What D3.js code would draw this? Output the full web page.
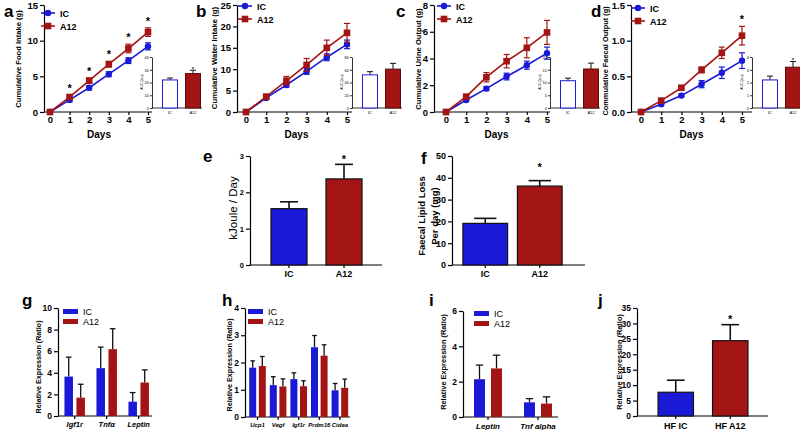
<!DOCTYPE html>
<html>
<head>
<meta charset="utf-8">
<script src="https://cdn.jsdelivr.net/npm/d3@7"></script>
<style>
  body { margin: 0; background: #fff; }
  svg { display: block; font-family: "Liberation Sans", Arial, sans-serif; }
</style>
</head>
<body>
<svg id="fig" width="800" height="430"></svg>
<script>
// ---- data ----
const days = [0, 1, 2, 3, 4, 5]
const groups = ["IC", "A12"]

const foodIC = [0, 1.7, 3.4, 5.3, 7.2, 9.2]
const foodICErr = [0, 0.3, 0.3, 0.35, 0.4, 0.5]
const foodA12 = [0, 2.1, 4.4, 6.7, 8.9, 11.2]
const foodA12Err = [0, 0.3, 0.35, 0.4, 0.6, 0.6]
const foodSig = [1, 2, 3, 4, 5]

const waterIC = [0, 3.3, 6.3, 9.5, 12.8, 15.8]
const waterICErr = [0, 0.3, 0.5, 0.7, 0.8, 1.0]
const waterA12 = [0, 3.6, 7.3, 11.0, 15.0, 18.5]
const waterA12Err = [0, 0.4, 1.0, 1.5, 1.8, 2.2]

const urineIC = [0, 0.9, 1.75, 2.65, 3.5, 4.4]
const urineICErr = [0, 0.1, 0.15, 0.25, 0.3, 0.45]
const urineA12 = [0, 1.15, 2.6, 3.8, 4.8, 5.95]
const urineA12Err = [0, 0.15, 0.35, 0.5, 0.75, 0.9]

const faecalIC = [0, 0.11, 0.23, 0.39, 0.55, 0.72]
const faecalICErr = [0, 0.02, 0.02, 0.05, 0.08, 0.11]
const faecalA12 = [0, 0.16, 0.34, 0.59, 0.83, 1.07]
const faecalA12Err = [0, 0.02, 0.02, 0.04, 0.08, 0.13]
const faecalSig = [5]

// inset AUC bars (IC, A12)
const aucFood = [22, 27], aucFoodErr = [1.5, 2.6]
const aucWater = [52, 61], aucWaterErr = [5, 9]
const aucUrine = [10.7, 15.3], aucUrineErr = [1, 2.3]
const aucFaecal = [2.2, 3.2], aucFaecalErr = [0.3, 0.45]

const energy = [1.55, 2.37], energyErr = [0.19, 0.4]
const lipid = [19.1, 36.2], lipidErr = [2.3, 2.5]

const gGenes = ["Igf1r", "Tnfα", "Leptin"]
const gIC = [3.65, 4.43, 1.33], gICErr = [1.8, 1.95, 0.84]
const gA12 = [1.7, 6.19, 3.1], gA12Err = [1.24, 1.89, 1.17]

const hGenes = ["Ucp1", "Vegf", "Igf1r", "Prdm16", "Cidea"]
const hIC = [1.81, 1.17, 1.39, 2.56, 0.98], hICErr = [0.25, 0.31, 0.23, 0.43, 0.25]
const hA12 = [1.87, 1.12, 1.13, 2.25, 1.07], hA12Err = [0.35, 0.28, 0.2, 0.4, 0.32]

const iGenes = ["Leptin", "Tnf alpha"]
const iIC = [2.14, 0.83], iICErr = [0.8, 0.21]
const iA12 = [2.75, 0.76], iA12Err = [0.75, 0.38]

const jGroups = ["HF IC", "HF A12"]
const jVals = [7.7, 24.4], jErr = [3.9, 5.2]

// ---- drawing ----
const BLUE = "#1a1ad6"
const RED = "#a31414"
const svg = d3.select("#fig")
const intFmt = d3.format("d")

function styleAxis(sel, size, weight) {
  sel.attr("font-size", size).attr("font-family", null).attr("font-weight", weight)
  sel.selectAll(".domain, .tick line").attr("stroke", "#000").attr("stroke-width", 1.2)
  sel.selectAll("text").attr("fill", "#000")
}

function yLabel(x, y, text, size, weight) {
  svg.append("text")
    .attr("transform", `translate(${x},${y}) rotate(-90)`)
    .attr("text-anchor", "middle")
    .attr("dominant-baseline", "central")
    .attr("font-size", size)
    .attr("font-weight", weight)
    .text(text)
}

function letter(x, y, t) {
  svg.append("text").attr("x", x).attr("y", y)
    .attr("font-size", 17).attr("font-weight", "bold").text(t)
}

function star(x, y, size) {
  svg.append("text").attr("x", x).attr("y", y)
    .attr("text-anchor", "middle").attr("font-size", size).attr("font-weight", "bold")
    .text("*")
}

// cumulative line panels with AUC inset
function linePanel(p) {
  const x = d3.scaleLinear().domain([0, 5]).range([p.x0, p.x1])
  const y = d3.scaleLinear().domain([0, p.yMax]).range([112, 5])
  const g = svg.append("g")

  const ya = g.append("g").attr("transform", `translate(${p.ax},0)`)
    .call(d3.axisLeft(y).tickValues(p.yTicks).tickFormat(p.fmt).tickSize(4).tickSizeOuter(0).tickPadding(2))
  styleAxis(ya, 9.5, "bold")
  const xa = g.append("g").attr("transform", "translate(0,112)")
    .call(d3.axisBottom(x).tickValues(days).tickFormat(intFmt).tickSize(3).tickSizeOuter(0).tickPadding(1))
  xa.select(".domain").attr("d", `M${p.ax},0H${p.ix}`)
  styleAxis(xa, 9.5, "bold")

  g.append("text").attr("x", (p.x0 + p.x1) / 2).attr("y", 138)
    .attr("text-anchor", "middle").attr("font-size", 10).attr("font-weight", "bold").text("Days")

  const series = [
    { v: p.ic, e: p.icErr, c: BLUE, m: "circle", name: "IC" },
    { v: p.a12, e: p.a12Err, c: RED, m: "square", name: "A12" }
  ]
  const line = d3.line().x((d, i) => x(days[i])).y(d => y(d))

  series.forEach((s, k) => {
    const pts = s.v.map((d, i) => ({ d, e: s.e[i], day: days[i] }))
    g.append("path").attr("d", line(s.v))
      .attr("fill", "none").attr("stroke", s.c).attr("stroke-width", 1.6)
    const eb = g.append("g").attr("stroke", s.c).attr("stroke-width", 1.2)
    const withErr = pts.filter(d => d.e > 0)
    eb.selectAll(null).data(withErr).enter().append("line")
      .attr("x1", d => x(d.day)).attr("x2", d => x(d.day))
      .attr("y1", d => y(d.d - d.e)).attr("y2", d => y(d.d + d.e))
    eb.selectAll(null).data(withErr).enter().append("line")
      .attr("x1", d => x(d.day) - 3).attr("x2", d => x(d.day) + 3)
      .attr("y1", d => y(d.d + d.e)).attr("y2", d => y(d.d + d.e))
    eb.selectAll(null).data(withErr).enter().append("line")
      .attr("x1", d => x(d.day) - 3).attr("x2", d => x(d.day) + 3)
      .attr("y1", d => y(d.d - d.e)).attr("y2", d => y(d.d - d.e))
    if (s.m === "circle") {
      g.selectAll(null).data(pts).enter().append("circle")
        .attr("cx", d => x(d.day)).attr("cy", d => y(d.d)).attr("r", 3.2).attr("fill", s.c)
    } else {
      g.selectAll(null).data(pts).enter().append("rect")
        .attr("x", d => x(d.day) - 3.3).attr("y", d => y(d.d) - 3.3)
        .attr("width", 6.6).attr("height", 6.6).attr("fill", s.c)
    }
    // legend
    const ly = p.ly + k * 13
    g.append("line").attr("x1", p.lx).attr("x2", p.lx + 14).attr("y1", ly).attr("y2", ly)
      .attr("stroke", s.c).attr("stroke-width", 1.6)
    if (s.m === "circle") {
      g.append("circle").attr("cx", p.lx + 7).attr("cy", ly).attr("r", 3.2).attr("fill", s.c)
    } else {
      g.append("rect").attr("x", p.lx + 3.7).attr("y", ly - 3.3).attr("width", 6.6).attr("height", 6.6).attr("fill", s.c)
    }
    g.append("text").attr("x", p.lx + 19).attr("y", ly + 3.5)
      .attr("font-size", 9).attr("font-weight", "bold").text(s.name)
  })

  ;(p.sig || []).forEach(i => star(x(days[i]), y(p.a12[i] + p.a12Err[i]) - 3, 11))

  // inset AUC
  const iy = d3.scaleLinear().domain([0, p.aucMax]).range([108, 57])
  const ix = d3.scaleBand().domain(groups).range([p.ix + 6.5, p.ix + 52.5]).paddingInner(0.35).paddingOuter(0.175)
  const ia = g.append("g").attr("transform", `translate(${p.ix},0)`)
    .call(d3.axisLeft(iy).tickValues(p.aucTicks).tickFormat(intFmt).tickSize(2).tickSizeOuter(0).tickPadding(1))
  styleAxis(ia, 4, "normal")
  ia.selectAll(".domain, .tick line").attr("stroke-width", 0.8)
  const ib = g.append("g").attr("transform", "translate(0,108)")
    .call(d3.axisBottom(ix).tickSize(0).tickPadding(3))
  ib.select(".domain").attr("d", `M${p.ix},0H${p.ix + 50}`)
  styleAxis(ib, 4, "normal")
  ib.selectAll(".domain").attr("stroke-width", 0.8)
  g.append("text")
    .attr("transform", `translate(${p.ix - 9},82) rotate(-90)`)
    .attr("text-anchor", "middle").attr("font-size", 3.5).text("AUC (a.u)")

  const auc = groups.map((k, i) => ({ k, v: p.auc[i], e: p.aucErr[i] }))
  const icx = d => ix(d.k) + ix.bandwidth() / 2
  g.selectAll(null).data(auc).enter().append("line")
    .attr("x1", icx).attr("x2", icx)
    .attr("y1", d => iy(d.v)).attr("y2", d => iy(d.v + d.e))
    .attr("stroke", "#111").attr("stroke-width", 1)
  g.selectAll(null).data(auc).enter().append("line")
    .attr("x1", d => icx(d) - 3).attr("x2", d => icx(d) + 3)
    .attr("y1", d => iy(d.v + d.e)).attr("y2", d => iy(d.v + d.e))
    .attr("stroke", "#111").attr("stroke-width", 1)
  g.selectAll(null).data(auc).enter().append("rect")
    .attr("x", d => ix(d.k)).attr("width", ix.bandwidth())
    .attr("y", d => iy(d.v)).attr("height", d => 108 - iy(d.v))
    .attr("fill", (d, i) => i === 0 ? "#fff" : RED)
    .attr("stroke", (d, i) => i === 0 ? BLUE : "#5a0a0a").attr("stroke-width", 1)
  if (p.aucSig) star(ix("A12") + ix.bandwidth() / 2, iy(p.auc[1] + p.aucErr[1]) + 1, 5)
}

// simple two-bar panels
function barPanel(p) {
  const y = d3.scaleLinear().domain([0, p.yMax]).range([p.y1, p.y0])
  const x = d3.scaleBand().domain(p.groups).range(p.xr).paddingInner(p.pad).paddingOuter(p.pad / 2)
  const g = svg.append("g")
  const ya = g.append("g").attr("transform", `translate(${p.ax},0)`)
    .call(d3.axisLeft(y).tickValues(p.yTicks).tickFormat(intFmt).tickSize(4).tickSizeOuter(0).tickPadding(2))
  styleAxis(ya, p.tickFont, "bold")
  const xa = g.append("g").attr("transform", `translate(0,${p.y1})`)
    .call(d3.axisBottom(x).tickSize(3).tickSizeOuter(0).tickPadding(p.xPad))
  xa.select(".domain").attr("d", `M${p.ax},0H${p.axEnd}`)
  styleAxis(xa, 9, "bold")

  const rows = p.groups.map((k, i) => ({ k, v: p.vals[i], e: p.errs[i], c: i === 0 ? BLUE : RED }))
  const cx = d => x(d.k) + x.bandwidth() / 2
  g.selectAll(null).data(rows).enter().append("line")
    .attr("x1", cx).attr("x2", cx).attr("y1", d => y(d.v)).attr("y2", d => y(d.v + d.e))
    .attr("stroke", "#111").attr("stroke-width", 1.6)
  g.selectAll(null).data(rows).enter().append("line")
    .attr("x1", d => cx(d) - x.bandwidth() / 4).attr("x2", d => cx(d) + x.bandwidth() / 4)
    .attr("y1", d => y(d.v + d.e)).attr("y2", d => y(d.v + d.e))
    .attr("stroke", "#111").attr("stroke-width", 1.6)
  g.selectAll(null).data(rows).enter().append("rect")
    .attr("x", d => x(d.k)).attr("width", x.bandwidth())
    .attr("y", d => y(d.v)).attr("height", d => p.y1 - y(d.v))
    .attr("fill", d => d.c).attr("stroke", "#111").attr("stroke-width", 1.2)
  star(cx(rows[1]), y(rows[1].v + rows[1].e) - p.sigGap, 11)
}

// grouped gene expression panels
function groupPanel(p) {
  const y = d3.scaleLinear().domain([0, p.yMax]).range([p.y1, p.y0])
  const x = d3.scaleBand().domain(p.genes).range(p.xr)
  const g = svg.append("g")
  const ya = g.append("g").attr("transform", `translate(${p.ax},0)`)
    .call(d3.axisLeft(y).tickValues(p.yTicks).tickFormat(intFmt).tickSize(4).tickSizeOuter(0).tickPadding(2))
  styleAxis(ya, 8.5, "bold")
  const xa = g.append("g").attr("transform", `translate(0,${p.y1})`)
    .call(d3.axisBottom(x).tickSize(3).tickSizeOuter(0).tickPadding(3))
  xa.select(".domain").attr("d", `M${p.ax},0H${p.axEnd}`)
  styleAxis(xa, p.labFont, "bold")
  xa.selectAll("text").attr("font-style", "italic")

  const sets = [
    { v: p.ic, e: p.icErr, c: BLUE, off: -p.off },
    { v: p.a12, e: p.a12Err, c: RED, off: p.off }
  ]
  sets.forEach(s => {
    const rows = p.genes.map((k, i) => ({ k, v: s.v[i], e: s.e[i] }))
    const cx = d => x(d.k) + x.bandwidth() / 2 + s.off
    g.selectAll(null).data(rows).enter().append("line")
      .attr("x1", cx).attr("x2", cx).attr("y1", d => y(d.v)).attr("y2", d => y(d.v + d.e))
      .attr("stroke", "#111").attr("stroke-width", 1.3)
    g.selectAll(null).data(rows).enter().append("line")
      .attr("x1", d => cx(d) - p.bw / 3).attr("x2", d => cx(d) + p.bw / 3)
      .attr("y1", d => y(d.v + d.e)).attr("y2", d => y(d.v + d.e))
      .attr("stroke", "#111").attr("stroke-width", 1.3)
    g.selectAll(null).data(rows).enter().append("rect")
      .attr("x", d => cx(d) - p.bw / 2).attr("width", p.bw)
      .attr("y", d => y(d.v)).attr("height", d => p.y1 - y(d.v))
      .attr("fill", s.c)
  })

  groups.forEach((k, i) => {
    g.append("rect").attr("x", p.lx).attr("y", p.ly + i * 10).attr("width", 15).attr("height", 5)
      .attr("fill", i === 0 ? BLUE : RED)
    g.append("text").attr("x", p.lx + 20).attr("y", p.ly + i * 10 + 5.5)
      .attr("font-size", 9).text(k)
  })
}

// ---- top row ----
linePanel({ ax: 44, x0: 50, x1: 148, ix: 152, yMax: 15, yTicks: [0, 5, 10, 15], fmt: intFmt,
  ic: foodIC, icErr: foodICErr, a12: foodA12, a12Err: foodA12Err, sig: foodSig,
  lx: 41, ly: 13, auc: aucFood, aucErr: aucFoodErr, aucMax: 40, aucTicks: [0, 10, 20, 30, 40], aucSig: true })
linePanel({ ax: 237, x0: 246, x1: 347, ix: 352, yMax: 25, yTicks: [0, 5, 10, 15, 20, 25], fmt: intFmt,
  ic: waterIC, icErr: waterICErr, a12: waterA12, a12Err: waterA12Err,
  lx: 238, ly: 6, auc: aucWater, aucErr: aucWaterErr, aucMax: 80, aucTicks: [0, 20, 40, 60, 80] })
linePanel({ ax: 434, x0: 446, x1: 547, ix: 550, yMax: 8, yTicks: [0, 2, 4, 6, 8], fmt: intFmt,
  ic: urineIC, icErr: urineICErr, a12: urineA12, a12Err: urineA12Err,
  lx: 437, ly: 6, auc: aucUrine, aucErr: aucUrineErr, aucMax: 20, aucTicks: [0, 5, 10, 15, 20] })
linePanel({ ax: 631, x0: 641, x1: 742, ix: 752, yMax: 1.5, yTicks: [0, 0.5, 1, 1.5], fmt: d3.format(".1f"),
  ic: faecalIC, icErr: faecalICErr, a12: faecalA12, a12Err: faecalA12Err, sig: faecalSig,
  lx: 631, ly: 8, auc: aucFaecal, aucErr: aucFaecalErr, aucMax: 4, aucTicks: [0, 1, 2, 3, 4], aucSig: true })

letter(4, 17, "a"); letter(196, 17, "b"); letter(396, 17, "c"); letter(591, 17, "d")
yLabel(18, 59, "Cumulative Food Intake (g)", 7.6, "bold")
yLabel(214, 58, "Cumulative Water Intake (g)", 7.8, "bold")
yLabel(418, 59, "Cumulative Urine Output (g)", 7.6, "bold")
yLabel(605, 61, "Commulative Faecal Output (g)", 7.4, "bold")

// ---- middle row ----
barPanel({ ax: 250, axEnd: 382, y0: 156, y1: 265, yMax: 3, yTicks: [0, 1, 2, 3], tickFont: 7.5,
  groups: groups, vals: energy, errs: energyErr, xr: [261.5, 371.5], pad: 0.345, xPad: 3, sigGap: 1 })
barPanel({ ax: 452, axEnd: 585, y0: 156, y1: 265, yMax: 50, yTicks: [0, 10, 20, 30, 40, 50], tickFont: 9,
  groups: groups, vals: lipid, errs: lipidErr, xr: [458, 567], pad: 0.18, xPad: 3, sigGap: 10 })
letter(203, 162, "e"); letter(421, 164, "f")
yLabel(233, 208, "kJoule / Day", 11.5, "normal")
yLabel(421, 216, "Faecal Lipid Loss", 9.5, "bold")
yLabel(434, 216, "Per day (mg)", 9.5, "bold")

// ---- bottom row ----
groupPanel({ ax: 58, axEnd: 152, y0: 308, y1: 416, yMax: 10, yTicks: [0, 2, 4, 6, 8, 10],
  genes: gGenes, ic: gIC, icErr: gICErr, a12: gA12, a12Err: gA12Err, labFont: 7.5,
  xr: [58.7, 154.7], off: 6, bw: 8.5, lx: 63, ly: 309 })
groupPanel({ ax: 245, axEnd: 350, y0: 308, y1: 417, yMax: 4, yTicks: [0, 1, 2, 3, 4],
  genes: hGenes, ic: hIC, icErr: hICErr, a12: hA12, a12Err: hA12Err, labFont: 6,
  xr: [247.2, 350.2], off: 4.8, bw: 7, lx: 248, ly: 309 })
groupPanel({ ax: 463, axEnd: 558, y0: 311, y1: 417, yMax: 6, yTicks: [0, 2, 4, 6],
  genes: iGenes, ic: iIC, icErr: iICErr, a12: iA12, a12Err: iA12Err, labFont: 8,
  xr: [463, 563], off: 8.5, bw: 11, lx: 474, ly: 311 })
barPanel({ ax: 637, axEnd: 768, y0: 308, y1: 416, yMax: 35, yTicks: [0, 5, 10, 15, 20, 25, 30, 35], tickFont: 8.5,
  groups: jGroups, vals: jVals, errs: jErr, xr: [648.5, 757.5], pad: 0.35, xPad: 4, sigGap: 2 })

letter(22, 306, "g"); letter(222, 306, "h"); letter(429, 306, "i"); letter(598, 306, "j")
yLabel(38, 367, "Relative Expression (Ratio)", 7.2, "bold")
yLabel(229, 365, "Relative Expression (Ratio)", 7.2, "bold")
yLabel(443, 362, "Relative Expression (Ratio)", 7.4, "bold")
yLabel(619, 362, "Relative Expression (Ratio)", 7.4, "bold")
</script>
</body>
</html>
